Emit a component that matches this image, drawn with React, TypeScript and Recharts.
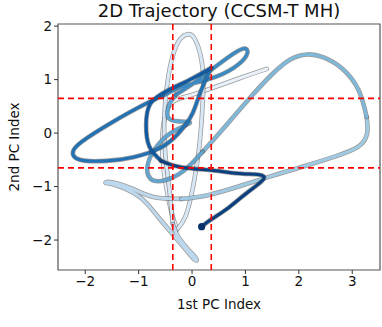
import React from 'react';
import { ComposedChart, Line, Scatter, XAxis, YAxis, ReferenceLine, ReferenceArea } from 'recharts';

type Pt = [number, number];

const xTicks = [-2, -1, 0, 1, 2, 3];
const yTicks = [-2, -1, 0, 1, 2];
const xCuts = [-0.36, 0.36];
const yCuts = [-0.65, 0.65];

// trajectory, split in pieces so the colour can go from light (start) to dark (end)
const stage1: Pt[] = [[1.4, 1.2], [0.9, 1.03], [0.4, 0.85], [-0.05, 0.7], [-0.3, 0.62], [-0.48, 0.4], [-0.56, -0.2], [-0.5, -0.9], [-0.38, -1.5], [-0.28, -1.8]];
const stage2: Pt[] = [[-0.28, -1.8], [-0.12, -1.55], [0.02, -1.0], [0.13, -0.3], [0.19, 0.4], [0.21, 1.0], [0.16, 1.45], [0.04, 1.78], [-0.08, 1.85], [-0.22, 1.76], [-0.36, 1.45], [-0.46, 0.95], [-0.52, 0.3], [-0.5, -0.4], [-0.42, -1.1], [-0.36, -1.7]];
const stage3: Pt[] = [[-0.36, -1.7], [-0.25, -1.95], [-0.05, -2.2], [0.08, -2.35], [0.04, -2.36], [-0.15, -2.14], [-0.37, -1.88], [-0.65, -1.55], [-0.95, -1.22], [-1.3, -1.02], [-1.55, -0.94], [-1.62, -0.93], [-1.5, -0.92], [-1.1, -1.05], [-0.7, -1.2], [-0.2, -1.23]];
const stage4: Pt[] = [[-0.2, -1.23], [0.3, -1.16], [0.9, -0.99], [1.5, -0.8], [2.1, -0.62], [2.7, -0.43], [3.12, -0.25], [3.28, 0.0], [3.27, 0.3]];
const stage5: Pt[] = [[3.27, 0.3], [3.12, 0.8], [2.82, 1.2], [2.45, 1.42], [2.15, 1.47], [1.85, 1.38], [1.5, 1.1], [1.05, 0.62], [0.6, 0.1], [0.2, -0.35]];
const stage6: Pt[] = [[0.2, -0.35], [-0.15, -0.7], [-0.5, -0.88], [-0.78, -0.85], [-0.82, -0.55], [-0.62, -0.2], [-0.32, 0.05], [-0.04, 0.19], [-0.25, 0.22], [-0.45, 0.3], [-0.42, 0.55], [-0.3, 0.72]];
const stage7: Pt[] = [[-0.3, 0.72], [0.05, 0.95], [0.45, 1.25], [0.8, 1.5], [1.0, 1.58], [1.02, 1.45], [0.78, 1.22], [0.35, 1.02], [-0.15, 0.88], [-0.55, 0.7]];
const stage8: Pt[] = [[-0.55, 0.7], [-1.0, 0.48], [-1.5, 0.2], [-1.95, -0.08], [-2.22, -0.32], [-2.1, -0.5], [-1.6, -0.52], [-1.1, -0.45], [-0.6, -0.28], [-0.25, 0.0], [0.0, 0.35], [0.15, 0.75], [0.36, 1.22]];
const stage9: Pt[] = [[0.36, 1.22], [0.0, 1.02], [-0.45, 0.8], [-0.78, 0.55], [-0.86, 0.15], [-0.8, -0.25], [-0.58, -0.52]];
const stage10: Pt[] = [[-0.58, -0.52], [-0.2, -0.64], [0.4, -0.7], [0.95, -0.76], [1.35, -0.82], [1.05, -1.1], [0.65, -1.42], [0.35, -1.62], [0.18, -1.75]];

const stageColors = ['#e8f1fa', '#d8e7f5', '#bdd7ec', '#9fcae1', '#7fb9da', '#5fa5d1', '#3b8bc2', '#2171b5', '#0f5aa3', '#0a3f80'];
const stages = [stage1, stage2, stage3, stage4, stage5, stage6, stage7, stage8, stage9, stage10];

const toRows = (pts: Pt[]) => pts.map(([x, y]) => ({ x, y }));
const lastPt = stage10[stage10.length - 1];

const fmt = (v: number) => String(v).replace('-', '\u2212');

const App = () => {
  const font = 'DejaVu Sans, sans-serif';
  return (
    <div style={{ position: 'absolute', left: 0, top: 0, width: 382, height: 327, background: '#fff', fontFamily: font }}>
      <div style={{ position: 'absolute', top: 0, left: 58, width: 322, textAlign: 'center', fontSize: 18, color: '#111' }}>
        2D Trajectory (CCSM-T MH)
      </div>
      <div style={{ position: 'absolute', top: 296, left: 58, width: 322, textAlign: 'center', fontSize: 13.5, color: '#111' }}>
        1st PC Index
      </div>
      <div style={{ position: 'absolute', left: 14, top: 147, fontSize: 13.5, color: '#111', whiteSpace: 'nowrap', transform: 'translate(-50%, -50%) rotate(-90deg)' }}>
        2nd PC Index
      </div>
      <ComposedChart width={382} height={327} margin={{ top: 24, right: 2, bottom: 0, left: 0 }}>
        <XAxis
          type="number"
          dataKey="x"
          domain={[-2.51, 3.52]}
          ticks={xTicks}
          allowDataOverflow
          height={57}
          tickSize={4}
          tickFormatter={fmt}
          axisLine={false}
          tickLine={{ stroke: '#333' }}
          tick={{ fill: '#111', fontSize: 13.5, fontFamily: font }}
        />
        <YAxis
          type="number"
          dataKey="y"
          domain={[-2.56, 2.04]}
          ticks={yTicks}
          allowDataOverflow
          width={58}
          tickSize={4}
          tickFormatter={fmt}
          axisLine={false}
          tickLine={{ stroke: '#333' }}
          tick={{ fill: '#111', fontSize: 13.5, fontFamily: font }}
        />
        <ReferenceArea x1={-2.51} x2={3.52} y1={-2.56} y2={2.04} fill="none" stroke="#555" strokeWidth={1.2} />
        {stages.flatMap((pts, i) => [
          <Line
            key={'o' + i}
            data={toRows(pts)}
            dataKey="y"
            type="natural"
            stroke="#333"
            strokeOpacity={0.5}
            strokeWidth={4.6}
            strokeLinecap="round"
            dot={false}
            activeDot={false}
            isAnimationActive={false}
          />,
          <Line
            key={'c' + i}
            data={toRows(pts)}
            dataKey="y"
            type="natural"
            stroke={stageColors[i]}
            strokeWidth={3.1}
            strokeLinecap="round"
            dot={false}
            activeDot={false}
            isAnimationActive={false}
          />,
        ])}
        <Scatter data={[{ x: lastPt[0], y: lastPt[1] }]} dataKey="y" fill="#08306b" isAnimationActive={false} shape={(p: any) => <circle cx={p.cx} cy={p.cy} r={3.6} fill="#08306b" />} />
        {xCuts.map((v) => (
          <ReferenceLine key={'x' + v} x={v} stroke="#ff0000" strokeWidth={1.6} strokeDasharray="6 4" />
        ))}
        {yCuts.map((v) => (
          <ReferenceLine key={'y' + v} y={v} stroke="#ff0000" strokeWidth={1.6} strokeDasharray="6 4" />
        ))}
      </ComposedChart>
    </div>
  );
};

export default App;
